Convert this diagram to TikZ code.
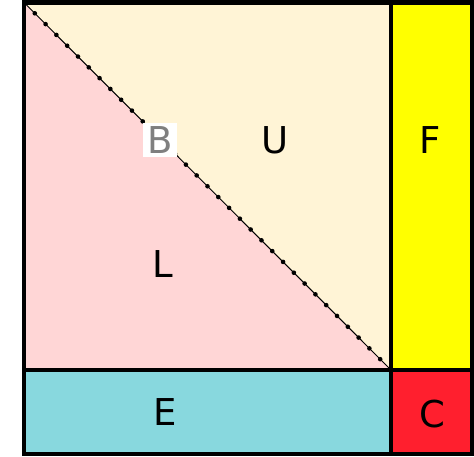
\documentclass[tikz,border=0pt]{standalone}
\usepackage{fontspec}
\setmainfont{DejaVu Sans}
\usetikzlibrary{calc}
\definecolor{ucol}{HTML}{FFF4D6}
\definecolor{lcol}{HTML}{FFD6D6}
\definecolor{fcol}{HTML}{FFFF00}
\definecolor{ecol}{HTML}{88D8DE}
\definecolor{ccol}{HTML}{FF1F2E}
\definecolor{bcol}{HTML}{7F7F7F}
\begin{document}
\begin{tikzpicture}[x=1pt,y=-1pt,
  lab/.style={font=\fontsize{37}{37}\selectfont, inner sep=0pt, text=black},
  edge/.style={draw=black, line width=3.5pt},
  outer/.style={draw=black, line width=4.5pt}]
\useasboundingbox (0,0) rectangle (474,457);
\coordinate (TL) at (24,2.5);
\coordinate (TR) at (472,2.5);
\coordinate (BL) at (24,454);
\coordinate (BR) at (472,454);
\coordinate (MT) at (391,2.5);
\coordinate (MB) at (391,454);
\coordinate (ML) at (24,370);
\coordinate (MR) at (472,370);
\coordinate (D) at (391,370);
% fills
\fill[ucol] (TL) -- (MT) -- (D) -- cycle;
\fill[lcol] (TL) -- (D) -- (ML) -- cycle;
\fill[fcol] (MT) rectangle (MR);
\fill[ecol] (ML) rectangle (MB);
\fill[ccol] (D) rectangle (BR);
% diagonal with dots
\draw[black, line width=1pt] (TL) -- (D);
\foreach \i in {1,...,33} {
  \fill[black] ($(TL)!\i/34!(D)$) circle (2.3pt);
}
% edges
\draw[edge] (ML) -- (MR);
\draw[edge] (MT) -- (MB);
\draw[outer] (TL) rectangle (BR);
% labels
\node[lab] (U) at (275.5,140) {U};
\node[lab] (F) at (430,140) {F};
\node[lab] (L) at (163,264) {L};
\node[lab] (E) at (165,412) {E};
\node[lab] (C) at (432,414) {C};
\node[lab, fill=white, text=bcol, minimum width=34pt, minimum height=34pt] (B) at (160,140) {B};
\end{tikzpicture}
\end{document}
